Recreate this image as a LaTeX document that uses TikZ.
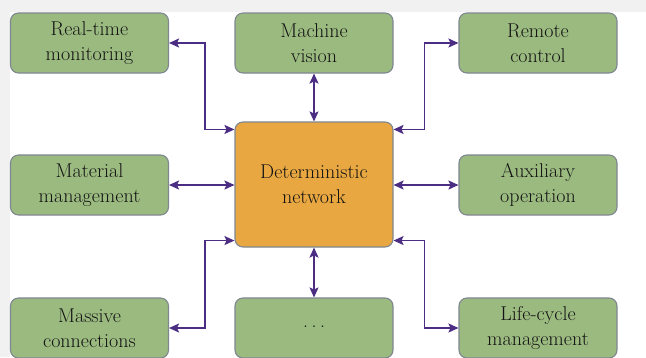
\documentclass[tikz,border=0pt]{standalone}
\usetikzlibrary{arrows.meta,calc}
\definecolor{boxgreen}{HTML}{9BBA80}
\definecolor{boxorange}{HTML}{E8A740}
\definecolor{boxline}{HTML}{7F8790}
\definecolor{conncol}{HTML}{4B2E83}
\definecolor{bggray}{HTML}{F1F1F1}
\definecolor{txt}{HTML}{141414}
\tikzset{
  fbox/.style={draw=boxline, line width=1.1pt, fill=boxgreen, rounded corners=8pt,
    minimum width=158pt, minimum height=60pt, align=center, text=txt,
    font=\rmfamily\fontsize{20}{25}\selectfont, inner sep=0pt},
  cbox/.style={fbox, fill=boxorange, minimum height=125pt},
  conn/.style={draw=conncol, line width=1.3pt,
    {Stealth[length=10pt,width=9pt,inset=2pt]}-{Stealth[length=10pt,width=9pt,inset=2pt]}}
}
\begin{document}
\begin{tikzpicture}[x=1pt,y=-1pt]
\useasboundingbox (0,0) rectangle (646,357);
\clip (0,0) rectangle (646,357);
\fill[bggray] (0,0) rectangle (646,357);
\fill[white] (10,12) rectangle (646,357);
% nodes
\node[fbox] (rt) at (89.5,43) {Real-time\\monitoring};
\node[fbox] (mv) at (314,43) {Machine\\vision};
\node[fbox] (rc) at (538,43) {Remote\\control};
\node[cbox] (dn) at (314,184.5) {Deterministic\\network};
\node[fbox] (mm) at (89.5,185) {Material\\management};
\node[fbox] (ao) at (538,185) {Auxiliary\\operation};
\node[fbox] (mc) at (89.5,328) {Massive\\connections};
\node[fbox] (dots) at (314,328) {\raisebox{2pt}{.\hspace{3.5pt}.\hspace{3.5pt}.}};
\node[fbox] (lc) at (538,328) {Life-cycle\\management};
% connectors
\draw[conn] (rt.east) -- ++(36,0) |- ($(dn.north west)+(0,8)$);
\draw[conn] (mv.south) -- (dn.north);
\draw[conn] ($(dn.north east)+(0,8)$) -- ++(31,0) |- (rc.west);
\draw[conn] (mm.east) -- (mm.east -| dn.west);
\draw[conn] (dn.east |- ao.west) -- (ao.west);
\draw[conn] (mc.east) -- ++(36,0) |- ($(dn.south west)+(0,-7)$);
\draw[conn] (dots.north) -- (dn.south);
\draw[conn] ($(dn.south east)+(0,-7)$) -- ++(31,0) |- (lc.west);
\end{tikzpicture}
\end{document}
